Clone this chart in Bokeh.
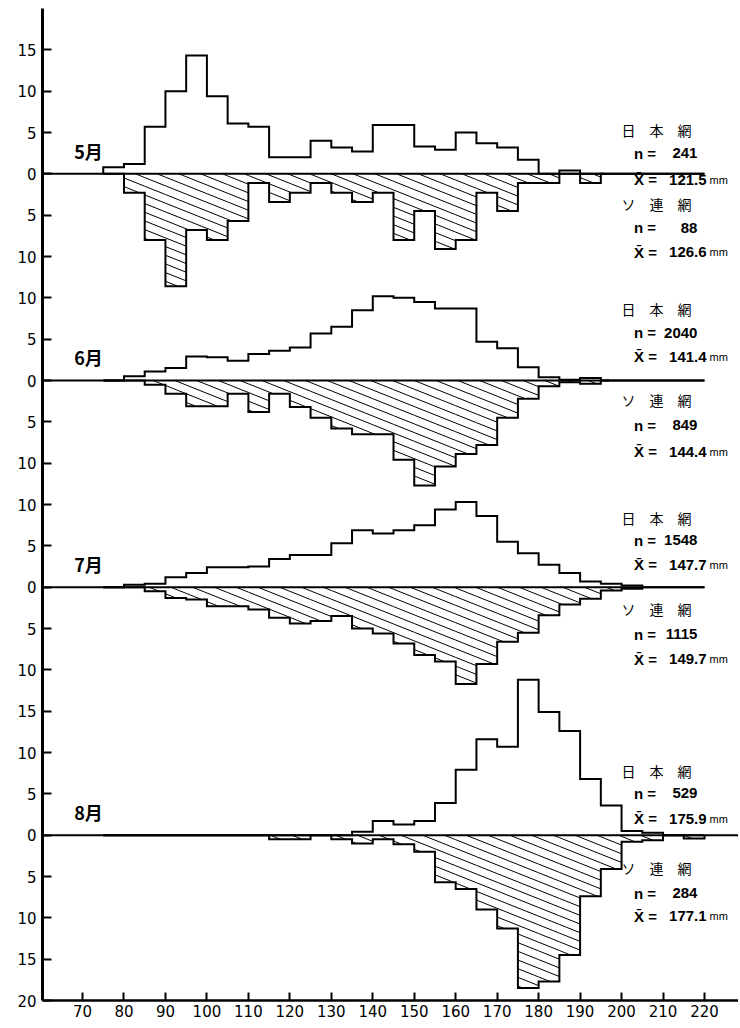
import numpy as np
from bokeh.plotting import figure
from bokeh.models import Range1d, FixedTicker
from bokeh.core.properties import value
from bokeh.embed import file_html
from bokeh.resources import INLINE

# ---------------- data ----------------
bin_left = list(range(75, 220, 5))          # 5 mm classes 75-80 ... 215-220
BIN_W = 5
months = ["5月", "6月", "7月", "8月"]

may_japan = [0.8, 1.2, 5.7, 10.0, 14.3, 9.4, 6.1, 5.7, 2.0, 2.0, 4.0, 3.2, 2.7, 5.9, 5.9,
             3.3, 2.9, 5.0, 3.7, 3.2, 1.7, 0, 0.4, 0, 0, 0, 0, 0, 0]
may_soviet = [0, 2.3, 8.0, 13.6, 6.8, 8.0, 5.7, 1.1, 3.4, 2.3, 1.1, 2.3, 3.4, 2.3, 8.0,
              4.5, 9.1, 8.0, 2.3, 4.5, 1.1, 1.1, 0, 1.1, 0, 0, 0, 0, 0]
jun_japan = [0, 0.5, 1.1, 1.5, 2.9, 2.8, 2.4, 3.2, 3.6, 4.0, 5.7, 6.5, 8.5, 10.2, 10.0,
             9.5, 8.7, 8.7, 4.7, 3.9, 1.6, 0.4, 0.1, 0.3, 0, 0, 0, 0, 0]
jun_soviet = [0, 0, 0.5, 1.6, 3.1, 3.1, 1.6, 3.8, 1.6, 3.2, 4.5, 5.8, 6.5, 6.5, 9.6,
              12.7, 10.4, 8.9, 7.8, 4.5, 2.2, 0.7, 0.2, 0.4, 0, 0, 0, 0, 0]
jul_japan = [0, 0.3, 0.4, 1.2, 1.7, 2.4, 2.4, 2.5, 3.4, 3.9, 3.9, 5.3, 6.9, 6.5, 6.9,
             7.5, 9.4, 10.3, 8.6, 5.5, 4.1, 2.7, 1.7, 0.7, 0.4, 0.2, 0, 0, 0]
jul_soviet = [0, 0, 0.5, 1.3, 1.5, 2.3, 2.3, 2.7, 3.7, 4.4, 4.1, 3.5, 5.0, 5.6, 6.8,
              8.2, 9.0, 11.7, 9.3, 6.6, 5.5, 3.4, 2.1, 1.4, 0.4, 0.2, 0, 0, 0]
aug_japan = [0, 0, 0, 0, 0, 0, 0, 0, 0, 0, 0, 0, 0.4, 1.7, 1.3,
             1.7, 3.9, 7.9, 11.6, 10.7, 18.8, 14.9, 12.6, 6.8, 3.6, 0.5, 0.3, 0, 0]
aug_soviet = [0, 0, 0, 0, 0, 0, 0, 0, 0.5, 0.5, 0, 0.5, 1.0, 0.5, 1.1,
              2.0, 5.7, 6.5, 9.0, 11.3, 18.5, 17.7, 14.5, 7.4, 4.1, 0.8, 0.6, 0, 0.4]

japan_series = [may_japan, jun_japan, jul_japan, aug_japan]
soviet_series = [may_soviet, jun_soviet, jul_soviet, aug_soviet]

net_japan = "日　本　網"
net_soviet = "ソ　連　網"
n_japan = [241, 2040, 1548, 529]
n_soviet = [88, 849, 1115, 284]
mean_japan = [121.5, 141.4, 147.7, 175.9]
mean_soviet = [126.6, 144.4, 149.7, 177.1]

x_ticks = list(range(70, 221, 10))
y_ticks_up = [[0, 5, 10, 15], [0, 5, 10], [0, 5, 10], [0, 5, 10, 15]]
y_ticks_down = [[5, 10], [5, 10], [5, 10], [5, 10, 15, 20]]

# ---------------- layout ----------------
BASE = [100, 75, 50, 20]                 # vertical offset of each month's zero line
ZERO_END = [196, 197, 205, None]
LABEL_OFF_JP = [[5.3, 2.5, -0.7], [8.6, 5.8, 2.9], [8.4, 5.7, 2.7], [7.8, 5.1, 2.0]]
LABEL_OFF_SV = [[-3.6, -6.5, -9.5], [-2.4, -5.4, -8.6], [-2.7, -5.7, -8.7], [-4.0, -7.0, -9.8]]
X0, X1 = 60.35, 228.2
S, D = 0.2, 1.05                          # hatch slope / spacing (data units)

p = figure(width=738, height=1020, x_range=Range1d(X0, X1), y_range=Range1d(0, 120),
           output_backend="svg", toolbar_location=None,
           min_border_left=42, min_border_right=0, min_border_top=8, min_border_bottom=20)
p.xgrid.visible = False
p.ygrid.visible = False
p.outline_line_color = None
p.background_fill_color = "white"
p.border_fill_color = "white"

# axes
yt, ylab = [], {}
for b, ups, downs in zip(BASE, y_ticks_up, y_ticks_down):
    for v in ups:
        yt.append(b + v); ylab[b + v] = str(v)
    for v in downs:
        yt.append(b - v); ylab[b - v] = str(v)
p.yaxis.ticker = FixedTicker(ticks=sorted(yt))
p.yaxis.major_label_overrides = ylab
p.xaxis.ticker = FixedTicker(ticks=x_ticks)
for ax in (p.xaxis, p.yaxis):
    ax.minor_tick_line_color = None
    ax.major_tick_out = 0
    ax.major_tick_line_width = 2
    ax.major_tick_line_color = "black"
    ax.axis_line_color = "black"
    ax.major_label_text_font = "DejaVu Sans"
    ax.major_label_text_font_size = "15px"
    ax.major_label_text_color = "black"
p.yaxis.major_tick_in = 9
p.xaxis.major_tick_in = 8
p.yaxis.axis_line_width = 3
p.xaxis.axis_line_width = 2.5
p.yaxis.major_label_standoff = 6
p.xaxis.major_label_standoff = 4


def step_path(base, vals, sign):
    xs, ys = [bin_left[0]], [base]
    for left, v in zip(bin_left, vals):
        xs += [left, left + BIN_W]
        ys += [base + sign * v, base + sign * v]
    xs.append(bin_left[-1] + BIN_W)
    ys.append(base)
    return xs, ys


def hatch(base, vals):
    x0s, y0s, x1s, y1s = [], [], [], []
    for left, v in zip(bin_left, vals):
        if v <= 0:
            continue
        xa, xb = left, left + BIN_W
        ylo, yhi = base - v, base
        kmin = int(np.ceil((ylo + S * xa) / D))
        kmax = int(np.floor((yhi + S * xb) / D))
        for k in range(kmin, kmax + 1):
            b = k * D
            xs = max(xa, (b - yhi) / S)
            xe = min(xb, (b - ylo) / S)
            if xe - xs > 1e-6:
                x0s.append(xs); y0s.append(b - S * xs)
                x1s.append(xe); y1s.append(b - S * xe)
    return x0s, y0s, x1s, y1s


for i, m in enumerate(months):
    base = BASE[i]
    xe = ZERO_END[i] if ZERO_END[i] is not None else X1
    p.segment(x0=[X0], y0=[base], x1=[xe], y1=[base], line_color="black", line_width=2)
    hx0, hy0, hx1, hy1 = hatch(base, soviet_series[i])
    p.segment(x0=hx0, y0=hy0, x1=hx1, y1=hy1, line_color="black", line_width=1)
    xs, ys = step_path(base, japan_series[i], 1)
    p.line(xs, ys, line_color="black", line_width=2, line_join="miter")
    xs, ys = step_path(base, soviet_series[i], -1)
    p.line(xs, ys, line_color="black", line_width=2, line_join="miter")
    p.text(x=[68], y=[base + 2.8], text=[m], text_font=value("Noto Sans CJK JP"),
           text_font_style="bold", text_font_size="18px", text_baseline="middle",
           text_align="left", text_color="black")
    for off, name, n, mean in ((LABEL_OFF_JP[i], net_japan, n_japan[i], mean_japan[i]),
                               (LABEL_OFF_SV[i], net_soviet, n_soviet[i], mean_soviet[i])):
        p.text(x=[200], y=[base + off[0]], text=[name], text_font=value("Noto Sans CJK JP"),
               text_font_size="14px", text_baseline="middle", text_align="left", text_color="#000000")
        p.text(x=[203, 203], y=[base + off[1], base + off[2]], text=["n =", "X̄ ="],
               text_font=value("Liberation Sans"), text_font_style="bold", text_font_size="15px",
               text_baseline="middle", text_align="left", text_color="black")
        p.text(x=[218.3, 220.5], y=[base + off[1], base + off[2]], text=[str(n), f"{mean:.1f}"],
               text_font=value("Liberation Sans"), text_font_style="bold", text_font_size="15px",
               text_baseline="middle", text_align="right", text_color="black")
        p.text(x=[221.2], y=[base + off[2]], text=["mm"], text_font=value("Liberation Sans"),
               text_font_size="11px", text_baseline="middle", text_align="left", text_color="black")

open("out.html", "w").write(file_html(p, INLINE))
